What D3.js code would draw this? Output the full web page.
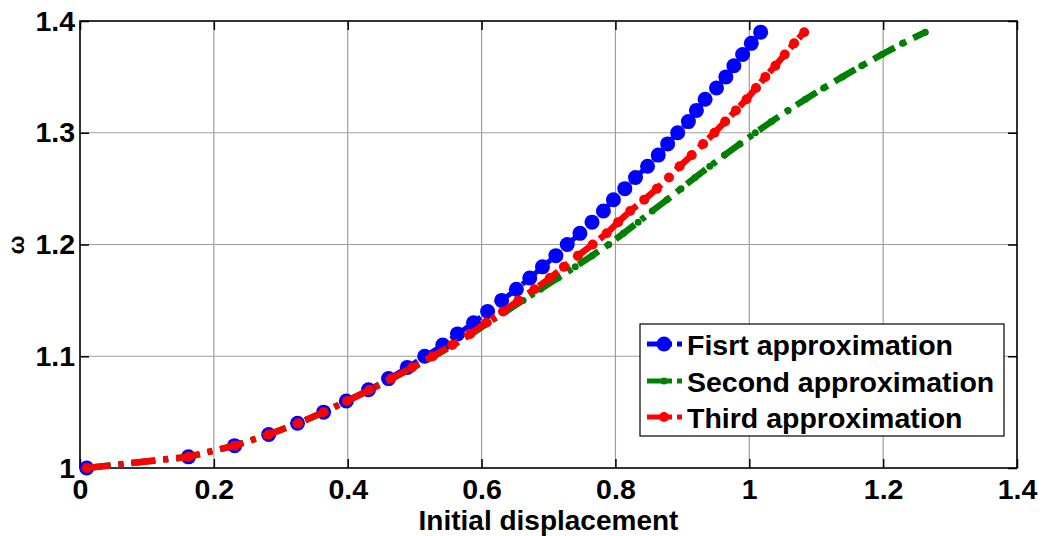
<!DOCTYPE html>
<html><head><meta charset="utf-8">
<script src="https://cdn.jsdelivr.net/npm/d3@7"></script>
<style>body{margin:0;background:#fff}svg{display:block}text{font-family:"Liberation Sans",Arial,sans-serif;font-weight:bold;fill:#000}</style>
</head><body><svg id="c" width="1044" height="536"></svg>
<script>
const omega = [1.00,1.01,1.02,1.03,1.04,1.05,1.06,1.07,1.08,1.09,1.10,1.11,1.12,1.13,1.14,1.15,1.16,1.17,1.18,1.19,1.20,1.21,1.22,1.23,1.24,1.25,1.26,1.27,1.28,1.29,1.30,1.31,1.32,1.33,1.34,1.35,1.36,1.37,1.38,1.39];
const firstApprox = [0.010,0.162,0.231,0.282,0.325,0.364,0.398,0.431,0.461,0.489,0.515,0.542,0.564,0.588,0.609,0.630,0.652,0.672,0.691,0.711,0.728,0.747,0.765,0.782,0.797,0.814,0.830,0.848,0.864,0.878,0.893,0.909,0.921,0.934,0.951,0.965,0.977,0.990,1.003,1.017];
const secondApprox = [0.010,0.162,0.231,0.282,0.326,0.364,0.399,0.433,0.466,0.498,0.529,0.558,0.585,0.610,0.636,0.662,0.688,0.714,0.740,0.765,0.790,0.812,0.834,0.855,0.877,0.898,0.919,0.941,0.963,0.986,1.009,1.033,1.058,1.084,1.111,1.139,1.168,1.198,1.229,1.263];
const thirdApprox = [0.010,0.162,0.231,0.282,0.326,0.364,0.399,0.433,0.465,0.496,0.527,0.556,0.583,0.607,0.632,0.655,0.679,0.702,0.723,0.744,0.766,0.787,0.804,0.822,0.843,0.862,0.880,0.896,0.914,0.931,0.948,0.964,0.980,0.996,1.010,1.024,1.039,1.053,1.067,1.082];
const seriesNames = ["Fisrt approximation","Second approximation","Third approximation"];
const xTicks = [0,0.2,0.4,0.6,0.8,1,1.2,1.4];
const yTicks = [1,1.1,1.2,1.3,1.4];
const xLabel = "Initial displacement";
const yLabel = "ω";

const L=80, R=1017, T=21, B=468;
const svg = d3.select("#c");
const x = d3.scaleLinear().domain([0,1.4]).range([L,R]);
const y = d3.scaleLinear().domain([1,1.4]).range([B,T]);

// grid
const g = svg.append("g");
g.selectAll(".gx").data(xTicks).join("line").attr("x1",d=>x(d)).attr("x2",d=>x(d)).attr("y1",T).attr("y2",B).attr("stroke","#9e9e9e").attr("stroke-width",1.2);
g.selectAll(".gy").data(yTicks).join("line").attr("y1",d=>y(d)).attr("y2",d=>y(d)).attr("x1",L).attr("x2",R).attr("stroke","#9e9e9e").attr("stroke-width",1.2);

// axes
const fmt = d=>String(d);
const ax = d3.axisBottom(x).tickValues(xTicks).tickFormat(fmt).tickSize(-9).tickPadding(11);
const axT = d3.axisTop(x).tickValues(xTicks).tickFormat("").tickSize(-9);
const ay = d3.axisLeft(y).tickValues(yTicks).tickFormat(fmt).tickSize(-9).tickPadding(5);
const ayR = d3.axisRight(y).tickValues(yTicks).tickFormat("").tickSize(-9);
function style(sel){sel.select(".domain").remove();sel.selectAll("line").attr("stroke","#000").attr("stroke-width",1.5);sel.selectAll("text").style("font-size","28.5px").style("font-family",'"Liberation Sans",Arial,sans-serif').style("font-weight","bold").attr("fill","#000");}
svg.append("g").attr("transform",`translate(0,${B})`).call(ax).call(style);
svg.append("g").attr("transform",`translate(0,${T})`).call(axT).call(style);
svg.append("g").attr("transform",`translate(${L},0)`).call(ay).call(style);
svg.append("g").attr("transform",`translate(${R},0)`).call(ayR).call(style);
svg.append("rect").attr("x",L).attr("y",T).attr("width",R-L).attr("height",B-T).attr("fill","none").attr("stroke","#000").attr("stroke-width",1.5);

// labels
svg.append("text").attr("x",(L+R)/2).attr("y",530).attr("text-anchor","middle").style("font-size","28px").text(xLabel);
svg.append("text").attr("transform","translate(24,245) rotate(-90)").attr("text-anchor","middle").style("font-size","22px").text(yLabel);

// series
const line = d3.line().x(d=>x(d[0])).y(d=>y(d[1]));
const dash = "24,8,5,8";
const series = [
  {xs:firstApprox, color:"#0000ff", r:7.5, w:5},
  {xs:secondApprox, color:"#008000", r:3.5, w:6.5},
  {xs:thirdApprox, color:"#ff0000", r:5, w:6.5}
];
series.forEach(s=>{
  const pts = s.xs.map((v,i)=>[v,omega[i]]);
  svg.append("path").datum(pts).attr("d",line).attr("fill","none").attr("stroke",s.color).attr("stroke-width",s.w).attr("stroke-dasharray",dash);
  svg.append("g").selectAll("circle").data(pts).join("circle").attr("cx",d=>x(d[0])).attr("cy",d=>y(d[1])).attr("r",s.r).attr("fill",s.color);
});

// legend
const lg = svg.append("g");
lg.append("rect").attr("x",640).attr("y",324).attr("width",364).attr("height",112).attr("fill","#fff").attr("stroke","#000").attr("stroke-width",1.2);
const rows=[355,392,428];
series.forEach((s,i)=>{
  const cy = rows[i]-11;
  lg.append("line").attr("x1",647).attr("x2",682).attr("y1",cy).attr("y2",cy).attr("stroke",s.color).attr("stroke-width",5).attr("stroke-dasharray","25,5,5,5");
  lg.append("circle").attr("cx",664).attr("cy",cy).attr("r",s.r).attr("fill",s.color);
  lg.append("text").attr("x",687).attr("y",rows[i]).style("font-size","28.5px").text(seriesNames[i]);
});
</script></body></html>
